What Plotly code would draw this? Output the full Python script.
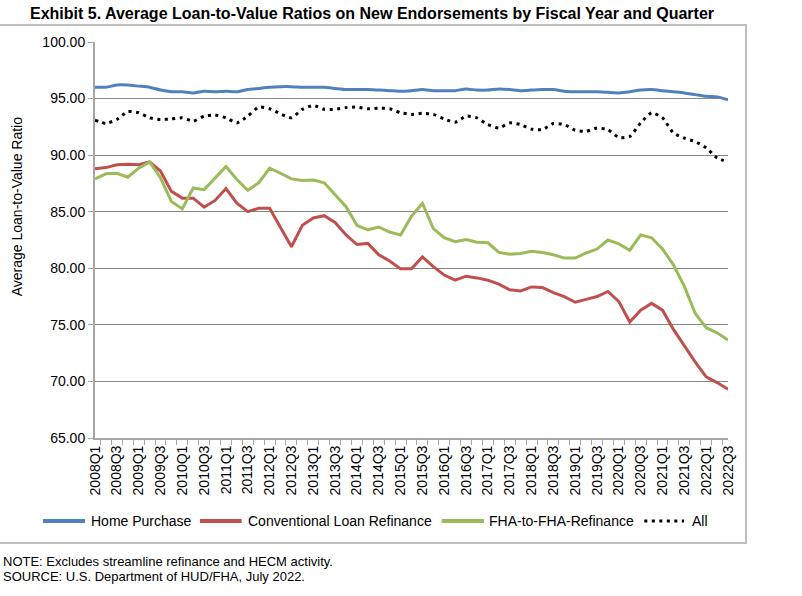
import plotly.graph_objects as go

# categories: fiscal quarters 2008Q1 .. 2022Q3
quarters = [f"{y}Q{q}" for y in range(2008, 2023) for q in range(1, 5)][:59]

home_purchase = [
    96.0, 96.0, 96.2, 96.2, 96.1, 96.0, 95.75, 95.6, 95.6, 95.5,
    95.65, 95.6, 95.65, 95.6, 95.8, 95.9, 96.0, 96.05, 96.05, 96.0,
    96.0, 96.0, 95.9, 95.8, 95.8, 95.8, 95.75, 95.7, 95.65, 95.7,
    95.8, 95.7, 95.7, 95.7, 95.85, 95.75, 95.75, 95.85, 95.8, 95.7,
    95.75, 95.8, 95.8, 95.65, 95.6, 95.6, 95.6, 95.55, 95.5, 95.6,
    95.75, 95.8, 95.7, 95.6, 95.5, 95.35, 95.2, 95.15, 94.9,
]
conventional_refi = [
    88.8, 88.9, 89.15, 89.2, 89.15, 89.4, 88.6, 86.8, 86.2, 86.2,
    85.4, 86.0, 87.05, 85.75, 85.0, 85.3, 85.3, 83.55, 81.9, 83.8,
    84.45, 84.65, 84.05, 82.95, 82.1, 82.2, 81.2, 80.65, 79.95, 79.95,
    81.0, 80.15, 79.4, 78.95, 79.3, 79.15, 78.95, 78.6, 78.1, 78.0,
    78.35, 78.3, 77.85, 77.5, 77.0, 77.25, 77.5, 77.95, 77.05, 75.25,
    76.3, 76.9, 76.3, 74.6, 73.1, 71.7, 70.4, 69.9, 69.3,
]
fha_refi = [
    87.9, 88.35, 88.4, 88.05, 88.85, 89.4, 88.0, 85.9, 85.25, 87.1,
    86.95, 88.0, 89.0, 87.85, 86.9, 87.55, 88.85, 88.4, 87.9, 87.75,
    87.8, 87.55, 86.5, 85.45, 83.8, 83.4, 83.65, 83.2, 82.95, 84.6,
    85.75, 83.5, 82.7, 82.35, 82.55, 82.3, 82.25, 81.4, 81.25, 81.3,
    81.5, 81.4, 81.2, 80.9, 80.9, 81.35, 81.7, 82.5, 82.15, 81.6,
    82.95, 82.7, 81.7, 80.3, 78.4, 76.0, 74.75, 74.3, 73.65,
]
all_ltv = [
    93.1, 92.8, 93.15, 93.85, 93.75, 93.3, 93.15, 93.2, 93.3, 93.0,
    93.45, 93.55, 93.3, 92.85, 93.45, 94.25, 94.1, 93.65, 93.3, 94.05,
    94.4, 94.05, 94.05, 94.2, 94.25, 94.1, 94.15, 94.1, 93.75, 93.6,
    93.7, 93.6, 93.2, 92.9, 93.45, 93.3, 92.7, 92.4, 92.85, 92.7,
    92.3, 92.25, 92.8, 92.7, 92.2, 92.1, 92.4, 92.25, 91.55, 91.65,
    92.85, 93.75, 93.3, 91.95, 91.5, 91.2, 90.65, 89.75, 89.4,
]

series_names = ["Home Purchase", "Conventional Loan Refinance", "FHA-to-FHA-Refinance", "All"]
series_colors = ["#4F81BD", "#C0504D", "#9BBB59", "black"]
dotted = "3px,4.5px"

tick_text = [q if i % 2 == 0 else "" for i, q in enumerate(quarters)]

fig = go.Figure()
fig.add_trace(go.Scatter(x=quarters, y=home_purchase, name=series_names[0], mode="lines",
                         line=dict(color=series_colors[0], width=3, shape="spline", smoothing=0.5)))
fig.add_trace(go.Scatter(x=quarters, y=conventional_refi, name=series_names[1], mode="lines",
                         line=dict(color=series_colors[1], width=3)))
fig.add_trace(go.Scatter(x=quarters, y=fha_refi, name=series_names[2], mode="lines",
                         line=dict(color=series_colors[2], width=3)))
fig.add_trace(go.Scatter(x=quarters, y=all_ltv, name=series_names[3], mode="lines",
                         line=dict(color=series_colors[3], width=3, dash=dotted, shape="spline", smoothing=0.5)))

fig.update_layout(
    width=802, height=596,
    margin=dict(l=95, r=74, t=42, b=158),
    paper_bgcolor="white", plot_bgcolor="white",
    font=dict(family="Liberation Sans, Arial", size=14, color="black"),
    showlegend=False,
    xaxis=dict(type="category", tickvals=quarters, ticktext=tick_text, tickson="boundaries",
               ticks="outside", ticklen=5, tickcolor="#a6a6a6", tickangle=-90,
               showgrid=False, showline=True, linecolor="#a6a6a6", linewidth=2,
               tickfont=dict(size=14)),
    yaxis=dict(range=[65, 100], dtick=5, tickformat=".2f", ticks="outside", ticklen=5,
               tickcolor="#a6a6a6", showgrid=True, gridcolor="#868686", gridwidth=1,
               showline=True, linecolor="#a6a6a6", linewidth=2, zeroline=False,
               tickfont=dict(size=14)),
)

# outer chart border
fig.add_shape(type="rect", xref="paper", yref="paper", x0=-0.158, x1=1.0284, y0=-0.265, y1=1.0429,
              line=dict(color="#bfbfbf", width=2), layer="below")

# legend drawn by hand so entries sit where the original has them
leg_y = -0.2096
leg_items = [(-0.0821, -0.0158, -0.0095), (0.1659, 0.2317, 0.2385),
             (0.5477, 0.6145, 0.6198), (0.8678, 0.9305, 0.9400)]
for (x0, x1, xt), name, color in zip(leg_items, series_names, series_colors):
    fig.add_shape(type="line", xref="paper", yref="paper", x0=x0, x1=x1, y0=leg_y, y1=leg_y,
                  line=dict(color=color, width=4 if name != "All" else 3,
                            dash=dotted if name == "All" else "solid"))
    fig.add_annotation(text=name, xref="paper", yref="paper", x=xt, y=leg_y,
                       xanchor="left", yanchor="middle", showarrow=False, font=dict(size=14))

fig.add_annotation(text="<b>Exhibit 5. Average Loan-to-Value Ratios on New Endorsements by Fiscal Year and Quarter</b>",
                   xref="paper", yref="paper", x=-0.1058, y=1.072, xanchor="left", yanchor="middle",
                   showarrow=False, font=dict(size=16))
fig.add_annotation(text="Average Loan-to-Value Ratio", textangle=-90,
                   xref="paper", yref="paper", x=-0.123, y=0.583, xanchor="center", yanchor="middle",
                   showarrow=False, font=dict(size=14))
fig.add_annotation(text="NOTE: Excludes streamline refinance and HECM activity.",
                   xref="paper", yref="paper", x=-0.1485, y=(438 - 561) / 396, xanchor="left", yanchor="middle",
                   showarrow=False, font=dict(size=13))
fig.add_annotation(text="SOURCE: U.S. Department of HUD/FHA, July 2022.",
                   xref="paper", yref="paper", x=-0.1485, y=(438 - 576) / 396, xanchor="left", yanchor="middle",
                   showarrow=False, font=dict(size=13))

# drop the browser's default body margin so the figure sits at the window corner
fig.write_html("out.html", config={"displayModeBar": False},
               post_script="document.body.style.margin='0px';")
